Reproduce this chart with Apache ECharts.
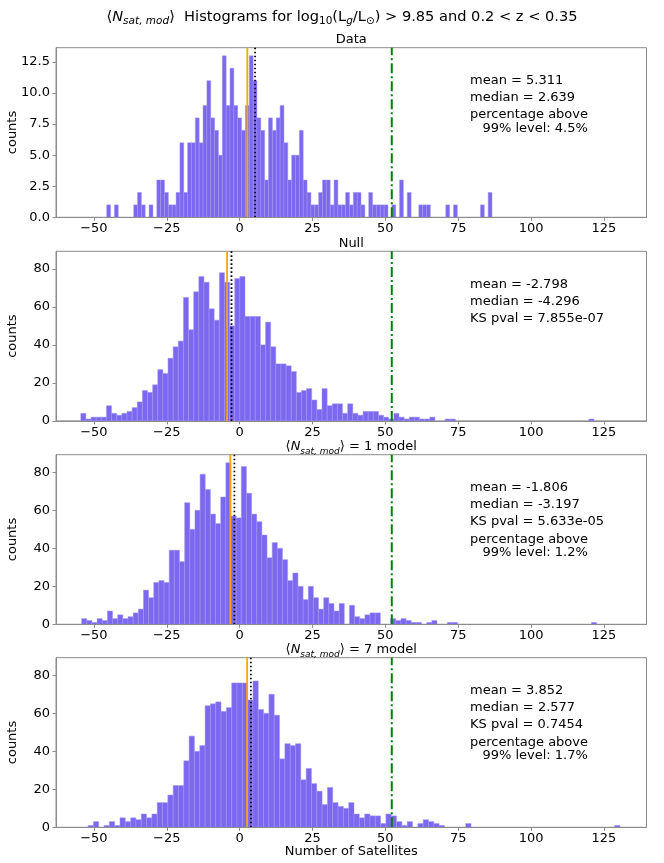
<!DOCTYPE html>
<html>
<head>
<meta charset="utf-8">
<script src="https://cdn.jsdelivr.net/npm/echarts@6/dist/echarts.min.js"></script>
<style>
  html, body { margin: 0; padding: 0; background: #fff; }
  #chart { width: 664px; height: 863px; }
</style>
</head>
<body>
<div id="chart"></div>
<script>
  // histogram edges [first, last], 100 equal bins each
  const dataRange = [-45.6, 86.6];
  const dataCounts = [
    1, 0, 1, 0, 0, 0, 0, 1, 2, 1,
    0, 1, 0, 3, 3, 2, 1, 1, 2, 6,
    2, 6, 6, 8, 6, 9, 11, 8, 7, 5,
    13, 9, 12, 9, 8, 7, 9, 13, 11, 8,
    7, 3, 8, 7, 8, 9, 6, 3, 5, 5,
    7, 3, 2, 1, 1, 2, 3, 3, 1, 3,
    1, 1, 2, 1, 2, 2, 1, 0, 2, 1,
    1, 1, 1, 0, 1, 0, 3, 0, 2, 0,
    0, 1, 1, 1, 0, 0, 0, 0, 1, 0,
    1, 0, 0, 0, 0, 0, 0, 1, 0, 2
  ];

  const nullRange = [-54.5, 121.6];
  const nullCounts = [
    4, 1, 2, 2, 2, 8, 4, 3, 4, 5,
    7, 10, 16, 15, 19, 27, 25, 33, 39, 42,
    65, 48, 68, 76, 73, 59, 53, 78, 73, 50,
    75, 76, 55, 55, 55, 40, 52, 39, 30, 30,
    29, 26, 15, 16, 17, 11, 6, 17, 8, 9,
    9, 4, 9, 4, 3, 5, 5, 5, 3, 2,
    1, 4, 2, 1, 2, 2, 1, 1, 2, 0,
    0, 1, 1, 0, 0, 0, 0, 0, 0, 0,
    0, 0, 0, 0, 0, 0, 0, 0, 0, 0,
    0, 0, 0, 0, 0, 0, 0, 0, 0, 1
  ];

  const model1Range = [-54.2, 122.5];
  const model1Counts = [
    3, 2, 1, 3, 2, 7, 3, 5, 3, 4,
    6, 8, 18, 14, 22, 23, 22, 39, 39, 33,
    64, 50, 60, 79, 71, 58, 53, 67, 85, 57,
    56, 83, 69, 58, 54, 47, 35, 43, 40, 34,
    23, 27, 20, 13, 20, 14, 8, 14, 11, 7,
    11, 0, 10, 4, 3, 5, 6, 6, 0, 0,
    3, 2, 3, 2, 1, 1, 0, 1, 2, 0,
    0, 1, 1, 0, 0, 0, 0, 0, 0, 0,
    0, 0, 0, 0, 0, 0, 0, 0, 0, 0,
    0, 0, 0, 0, 0, 0, 0, 0, 0, 1
  ];

  const model7Range = [-52.0, 130.5];
  const model7Counts = [
    1, 3, 0, 1, 3, 1, 5, 3, 5, 4,
    7, 5, 7, 13, 13, 17, 22, 22, 35, 48,
    40, 43, 64, 65, 66, 61, 63, 76, 76, 76,
    67, 77, 62, 60, 70, 59, 36, 44, 43, 44,
    25, 31, 23, 19, 12, 21, 13, 11, 10, 13,
    7, 5, 7, 6, 6, 2, 7, 6, 3, 1,
    3, 0, 2, 4, 3, 2, 1, 0, 0, 0,
    0, 2, 0, 0, 0, 0, 0, 0, 0, 0,
    0, 0, 0, 0, 0, 0, 0, 0, 0, 0,
    0, 0, 0, 0, 0, 0, 0, 0, 0, 1
  ];

  const xTicks = [-50, -25, 0, 25, 50, 75, 100, 125];
  const yTicksData = [0, 2.5, 5, 7.5, 10, 12.5];
  const yTicksModel = [0, 20, 40, 60, 80];

  const medians = [2.639, -4.296, -3.197, 2.577];
  const means = [5.311, -2.798, -1.806, 3.852];
  const level99 = 52.2;

  const statTexts = [
    ['mean = 5.311', 'median = 2.639', 'percentage above', '   99% level: 4.5%'],
    ['mean = -2.798', 'median = -4.296', 'KS pval = 7.855e-07'],
    ['mean = -1.806', 'median = -3.197', 'KS pval = 5.633e-05', 'percentage above', '   99% level: 1.2%'],
    ['mean = 3.852', 'median = 2.577', 'KS pval = 0.7454', 'percentage above', '   99% level: 1.7%']
  ];

  const FONT = '"DejaVu Sans", sans-serif';
  const SPINE = '#8c8c8c';
  const tops = [47.7, 251.3, 454.7, 657.7];
  const gridH = 169.6;
  const gridL = 56;
  const gridR = 17.5;

  const panels = [
    { range: dataRange, counts: dataCounts, yMax: 13.65, yTicks: yTicksData, fmt: v => v.toFixed(1) },
    { range: nullRange, counts: nullCounts, yMax: 89.25, yTicks: yTicksModel, fmt: v => String(v) },
    { range: model1Range, counts: model1Counts, yMax: 89.25, yTicks: yTicksModel, fmt: v => String(v) },
    { range: model7Range, counts: model7Counts, yMax: 89.25, yTicks: yTicksModel, fmt: v => String(v) }
  ];

  function binItems(range, counts) {
    const w = (range[1] - range[0]) / counts.length;
    const items = [];
    counts.forEach((c, i) => {
      if (c > 0) items.push([range[0] + i * w, range[0] + (i + 1) * w, c]);
    });
    return items;
  }

  function renderBar(params, api) {
    const p0 = api.coord([api.value(0), api.value(2)]);
    const p1 = api.coord([api.value(1), 0]);
    return {
      type: 'rect',
      shape: { x: p0[0], y: p0[1], width: p1[0] - p0[0], height: p1[1] - p0[1] },
      style: { fill: '#7b68ee', stroke: '#a397f3', lineWidth: 0.5 }
    };
  }

  function vLine(i, x, color, type, width) {
    return {
      type: 'line',
      xAxisIndex: i,
      yAxisIndex: i,
      data: [[x, 0], [x, panels[i].yMax]],
      symbol: 'none',
      silent: true,
      z: 4,
      lineStyle: { color: color, type: type, width: width }
    };
  }

  const grids = [], xAxes = [], yAxes = [], series = [], graphics = [];

  panels.forEach((p, i) => {
    grids.push({
      left: gridL, right: gridR, top: tops[i], height: gridH,
      show: true, borderColor: SPINE, borderWidth: 1, backgroundColor: 'transparent'
    });
    xAxes.push({
      type: 'value', gridIndex: i, min: -63, max: 139.6, z: 5,
      axisLine: { show: true, onZero: false, lineStyle: { color: SPINE, width: 1 } },
      axisTick: { show: true, length: 3.5, customValues: xTicks, lineStyle: { color: SPINE } },
      axisLabel: {
        customValues: xTicks, margin: 5, color: '#000', fontSize: 13, fontFamily: FONT,
        formatter: v => String(v).replace('-', '\u2212')
      },
      splitLine: { show: false }
    });
    yAxes.push({
      type: 'value', gridIndex: i, min: 0, max: p.yMax, z: 5,
      axisLine: { show: true, onZero: false, lineStyle: { color: SPINE, width: 1 } },
      axisTick: { show: true, length: 3.5, customValues: p.yTicks, lineStyle: { color: SPINE } },
      axisLabel: {
        customValues: p.yTicks, margin: 6, color: '#000', fontSize: 13, fontFamily: FONT,
        formatter: p.fmt
      },
      splitLine: { show: false }
    });
    series.push({
      type: 'custom',
      xAxisIndex: i,
      yAxisIndex: i,
      renderItem: renderBar,
      encode: { x: [0, 1], y: 2 },
      data: binItems(p.range, p.counts),
      z: 2
    });
    series.push(vLine(i, medians[i], '#ffa500', 'solid', 1.8));
    series.push(vLine(i, means[i], '#000', [1.6, 2.4], 1.8));
    series.push(vLine(i, level99, '#008000', [10, 3, 2, 3], 2));

    // y label
    graphics.push({
      type: 'text', x: 13, y: tops[i] + gridH / 2, rotation: Math.PI / 2,
      style: { text: 'counts', font: '13px ' + FONT, fill: '#000', align: 'center', verticalAlign: 'middle' }
    });

    // stats annotation
    let y = tops[i] + 33;
    statTexts[i].forEach((t, k) => {
      if (k > 0) y += t.startsWith('   ') ? 13.4 : 17.2;
      graphics.push({
        type: 'text', x: 470, y: y,
        style: { text: t, font: '13px ' + FONT, fill: '#000', align: 'left', verticalAlign: 'middle' }
      });
    });
  });

  const richSmall = {
    r: { fontSize: 13, fontFamily: FONT, color: '#000', lineHeight: 18, verticalAlign: 'middle' },
    i: { fontSize: 13, fontFamily: FONT, fontStyle: 'italic', color: '#000', lineHeight: 18, verticalAlign: 'middle' },
    si: { fontSize: 9, fontFamily: FONT, fontStyle: 'italic', color: '#000', lineHeight: 18, verticalAlign: 'bottom' }
  };
  const richBig = {
    r: { fontSize: 14.6, fontFamily: FONT, color: '#000', lineHeight: 20, verticalAlign: 'middle' },
    i: { fontSize: 14.6, fontFamily: FONT, fontStyle: 'italic', color: '#000', lineHeight: 20, verticalAlign: 'middle' },
    si: { fontSize: 10.5, fontFamily: FONT, fontStyle: 'italic', color: '#000', lineHeight: 20, verticalAlign: 'bottom' },
    s: { fontSize: 10.5, fontFamily: FONT, color: '#000', lineHeight: 20, verticalAlign: 'bottom' }
  };

  const subTitles = [
    '{r|Data}',
    '{r|Null}',
    '{r|\u27e8}{i|N}{si|sat, mod}{r|\u27e9 = 1 model}',
    '{r|\u27e8}{i|N}{si|sat, mod}{r|\u27e9 = 7 model}'
  ];
  subTitles.forEach((t, i) => {
    graphics.push({
      type: 'text', x: gridL + (664 - gridL - gridR) / 2, y: tops[i] - 8,
      style: { text: t, rich: richSmall, align: 'center', verticalAlign: 'middle' }
    });
  });

  graphics.push({
    type: 'text', x: 342, y: 17,
    style: {
      text: '{r|\u27e8}{i|N}{si|sat, mod}{r|\u27e9  Histograms for log}{s|10}{r|(L}{si|g}{r|/L}{s|\u2299}{r|) > 9.85 and 0.2 < z < 0.35}',
      rich: richBig, align: 'center', verticalAlign: 'middle'
    }
  });

  graphics.push({
    type: 'text', x: gridL + (664 - gridL - gridR) / 2, y: 852,
    style: { text: 'Number of Satellites', font: '13px ' + FONT, fill: '#000', align: 'center', verticalAlign: 'middle' }
  });

  const chart = echarts.init(document.getElementById('chart'), null, { renderer: 'canvas' });
  chart.setOption({
    animation: false,
    backgroundColor: '#fff',
    grid: grids,
    xAxis: xAxes,
    yAxis: yAxes,
    series: series,
    graphic: graphics
  });
</script>
</body>
</html>
